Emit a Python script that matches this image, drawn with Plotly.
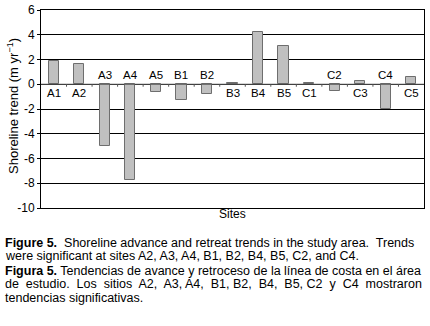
import plotly.graph_objects as go

sites = ["A1", "A2", "A3", "A4", "A5", "B1", "B2", "B3", "B4", "B5", "C1", "C2", "C3", "C4", "C5"]
trend = [1.85, 1.6, -5.0, -7.75, -0.6, -1.25, -0.8, 0.08, 4.2, 3.1, 0.08, -0.55, 0.25, -2.0, 0.6]
ytick_vals = [6, 4, 2, 0, -2, -4, -6, -8, -10]
ytick_text = ["6", "4", "2", "0", "-2", "-4", "-6", "-8", "-10"]

FONT = "Liberation Sans, Arial, sans-serif"
PW, PH, L, T = 383, 198, 41, 10

fig = go.Figure()
fig.add_trace(go.Bar(
    x=list(range(len(sites))), y=trend, width=0.4,
    marker=dict(color="#c0c0c0", line=dict(color="#6e6e6e", width=1)),
    hoverinfo="skip",
))

# category labels near the zero line
for i, (s, v) in enumerate(zip(sites, trend)):
    fig.add_annotation(x=i, y=0, text=s, showarrow=False,
                       yanchor="top" if v >= 0 else "bottom",
                       yshift=-1 if v >= 0 else 1,
                       font=dict(family=FONT, size=11.5, color="black"))

# zero axis line with small tick marks between categories
fig.add_shape(type="line", xref="x", yref="y", x0=-0.5, x1=len(sites) - 0.5, y0=0, y1=0,
              line=dict(color="#555555", width=1))
for i in range(len(sites) - 1):
    fig.add_shape(type="line", xref="x", yref="y", x0=i + 0.5, x1=i + 0.5, y0=0, y1=-0.2,
                  line=dict(color="#555555", width=1))

fig.update_layout(
    width=430, height=326,
    margin=dict(l=L, r=6, t=T, b=118),
    paper_bgcolor="white", plot_bgcolor="white",
    showlegend=False, bargap=0,
    xaxis=dict(range=[-0.5, len(sites) - 0.5], showticklabels=False, showgrid=False,
               zeroline=False, showline=True, linecolor="black", mirror=True, ticks="",
               automargin=False),
    yaxis=dict(range=[-10, 6], tickvals=ytick_vals, ticktext=ytick_text,
               showgrid=True, gridcolor="black", gridwidth=1, zeroline=False,
               showline=True, linecolor="black", mirror=True, ticks="outside", ticklen=3,
               tickcolor="black", automargin=False,
               tickfont=dict(family=FONT, size=12, color="black")),
)

# axis titles
fig.add_annotation(xref="paper", yref="paper", x=0.5, y=1 + (T - 214) / PH,
                   yanchor="middle", showarrow=False, text="Sites",
                   font=dict(family=FONT, size=12, color="black"))
fig.add_annotation(xref="paper", yref="paper", x=(13 - L) / PW, y=1 + (T - 106) / PH,
                   xanchor="center", yanchor="middle", showarrow=False, textangle=-90,
                   text="Shoreline trend (m yr<sup>−1</sup>)",
                   font=dict(family=FONT, size=13, color="black"))

captions = [
    (243, "<b>Figure 5.</b>  Shoreline advance and retreat trends in the study area.  Trends"),
    (256, "were significant at sites A2, A3, A4, B1, B2, B4, B5, C2, and C4."),
    (271, "<b>Figura 5.</b> Tendencias de avance y retroceso de la línea de costa en el área"),
    (284, "de  estudio.  Los  sitios  A2,  A3, A4,  B1, B2,  B4,  B5, C2  y  C4  mostraron"),
    (298, "tendencias significativas."),
]
for ypx, txt in captions:
    fig.add_annotation(xref="paper", yref="paper", x=(3 - L) / PW, xanchor="left",
                       y=1 + (T - ypx) / PH, yanchor="middle", showarrow=False,
                       text=txt, align="left",
                       font=dict(family=FONT, size=12.5, color="black"))

fig.write_html("out.html", config={"displayModeBar": False},
               post_script="document.body.style.margin='0';")
